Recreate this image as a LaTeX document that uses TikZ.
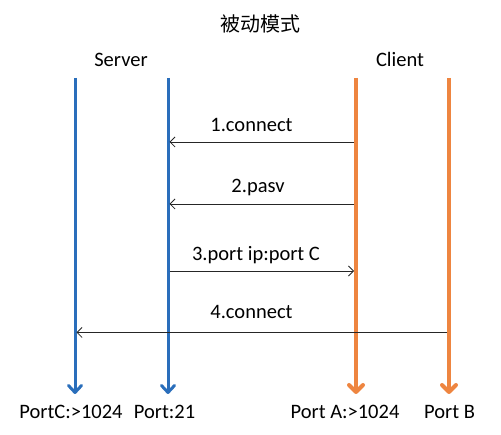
\documentclass[tikz,border=0pt]{standalone}
\usepackage{fontspec}
\setmainfont{Carlito}
\newfontfamily\cjk{Noto Sans CJK SC}
\usetikzlibrary{arrows.meta}
\definecolor{srvblue}{HTML}{2A6EBB}
\definecolor{cliorange}{HTML}{EE8540}
\begin{document}
\begin{tikzpicture}[x=1pt,y=-1pt,
  lbl/.style={font=\fontsize{20.5}{24}\selectfont, anchor=base, inner sep=0pt},
  srvline/.style={draw=srvblue, line width=3pt, -{Straight Barb[length=7pt,width=13pt,line cap=round,line join=round]}},
  cliline/.style={draw=cliorange, line width=4pt, -{Straight Barb[length=7pt,width=14pt,line cap=round,line join=round]}},
  msg/.style={draw=black!85, line width=0.8pt, -{Straight Barb[length=5pt,width=10pt]}}]
\useasboundingbox (0,0) rectangle (501,435);
% title
\node[lbl, font=\cjk\fontsize{20}{24}\selectfont] (title) at (260,32) {被动模式};
% headers
\node[lbl] (server) at (121,67) {Server};
\node[lbl] (client) at (400,67) {Client};
% lifeline ends
\coordinate (c1t) at (75,78);   \coordinate (c1b) at (75,394);
\coordinate (s21t) at (168,78); \coordinate (s21b) at (168,394);
\coordinate (pat) at (356,78);  \coordinate (pab) at (356,394);
\coordinate (pbt) at (449,78);  \coordinate (pbb) at (449,394);
\draw[srvline] (c1t) -- (c1b);
\draw[srvline] (s21t) -- (s21b);
\draw[cliline] (pat) -- (pab);
\draw[cliline] (pbt) -- (pbb);
% bottom labels
\node[lbl] (portc) at (71,419) {PortC:>1024};
\node[lbl] (port21) at (164.5,419) {Port:21};
\node[lbl] (porta) at (345,419) {Port A:>1024};
\node[lbl] (portb) at (449.5,419) {Port B};
% message anchors
\coordinate (m1s) at (354,142); \coordinate (m1e) at (169.5,142);
\coordinate (m2s) at (354,204); \coordinate (m2e) at (169.5,204);
\coordinate (m3s) at (169.5,271); \coordinate (m3e) at (354,271);
\coordinate (m4s) at (447,332.5); \coordinate (m4e) at (76.5,332.5);
\draw[msg] (m1s) -- (m1e);
\draw[msg] (m2s) -- (m2e);
\draw[msg] (m3s) -- (m3e);
\draw[msg] (m4s) -- (m4e);
% message labels
\node[lbl] (l1) at (251.5,132) {1.connect};
\node[lbl] (l2) at (258,193) {2.pasv};
\node[lbl] (l3) at (256,260.5) {3.port ip:port C};
\node[lbl] (l4) at (251.5,319) {4.connect};
\end{tikzpicture}
\end{document}
